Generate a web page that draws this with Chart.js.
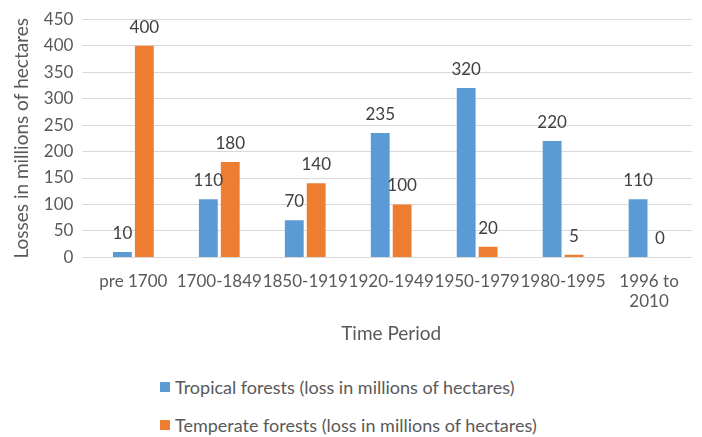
<!DOCTYPE html>
<html>
<head>
<meta charset="utf-8">
<script src="https://cdn.jsdelivr.net/npm/chart.js@4"></script>
<style>
  html, body { margin: 0; padding: 0; background: #fff; }
  #wrap { position: relative; width: 702px; height: 437px; }
  #legend { position: absolute; left: 160px; top: 377px; font-family: Lato, sans-serif; font-size: 18px; color: #595959; }
  #legend div { height: 20px; margin-bottom: 18px; display: flex; align-items: center; }
  #legend span.box { display: inline-block; width: 10px; height: 10px; margin-right: 5px; }
</style>
</head>
<body>
<div id="wrap">
  <canvas id="forestChart" width="702" height="349"></canvas>
  <div id="legend"></div>
</div>
<script>
const periods = ['pre 1700', '1700-1849', '1850-1919', '1920-1949', '1950-1979', '1980-1995', ['1996 to', '2010']];
const tropical = [10, 110, 70, 235, 320, 220, 110];
const temperate = [400, 180, 140, 100, 20, 5, 0];
const seriesNames = ['Tropical forests (loss in millions of hectares)', 'Temperate forests (loss in millions of hectares)'];
const seriesColors = ['#5B9BD5', '#ED7D31'];

// value labels above each bar
const barLabels = {
    id: 'barLabels',
    afterDatasetsDraw(chart) {
        const ctx = chart.ctx;
        ctx.save();
        ctx.font = '17px Lato, sans-serif';
        ctx.fillStyle = '#404040';
        ctx.textAlign = 'center';
        ctx.textBaseline = 'bottom';
        chart.data.datasets.forEach((ds, i) => {
            chart.getDatasetMeta(i).data.forEach((bar, j) => {
                ctx.fillText(ds.data[j], bar.x, bar.y - 10);
            });
        });
        ctx.restore();
    }
};

const ctx = document.getElementById('forestChart').getContext('2d');
new Chart(ctx, {
    type: 'bar',
    data: {
        labels: periods,
        datasets: [{
            label: seriesNames[0],
            data: tropical,
            backgroundColor: seriesColors[0]
        }, {
            label: seriesNames[1],
            data: temperate,
            backgroundColor: seriesColors[1]
        }]
    },
    options: {
        responsive: false,
        animation: false,
        layout: { padding: { left: 6, right: 10, top: 7, bottom: 0 } },
        datasets: { bar: { categoryPercentage: 0.51, barPercentage: 0.86 } },
        plugins: {
            legend: { display: false },
            tooltip: { enabled: false }
        },
        scales: {
            x: {
                grid: { display: false },
                border: { display: false },
                ticks: {
                    color: '#595959',
                    font: { family: 'Lato', size: 17 },
                    maxRotation: 0,
                    autoSkip: false,
                    padding: 6
                },
                title: {
                    display: true,
                    text: 'Time Period',
                    color: '#595959',
                    font: { family: 'Lato', size: 19 },
                    padding: { top: 4 }
                }
            },
            y: {
                min: 0,
                max: 450,
                ticks: {
                    stepSize: 50,
                    color: '#595959',
                    font: { family: 'Lato', size: 17 },
                    padding: 9
                },
                grid: { color: '#d9d9d9' },
                border: { display: false },
                title: {
                    display: true,
                    text: 'Losses in millions of hectares',
                    color: '#595959',
                    font: { family: 'Lato', size: 19 },
                    padding: { bottom: 2 }
                }
            }
        }
    },
    plugins: [barLabels]
});

const legend = document.getElementById('legend');
seriesNames.forEach((name, i) => {
    const row = document.createElement('div');
    row.innerHTML = '<span class="box" style="background:' + seriesColors[i] + '"></span>' + name;
    legend.appendChild(row);
});
</script>
</body>
</html>
